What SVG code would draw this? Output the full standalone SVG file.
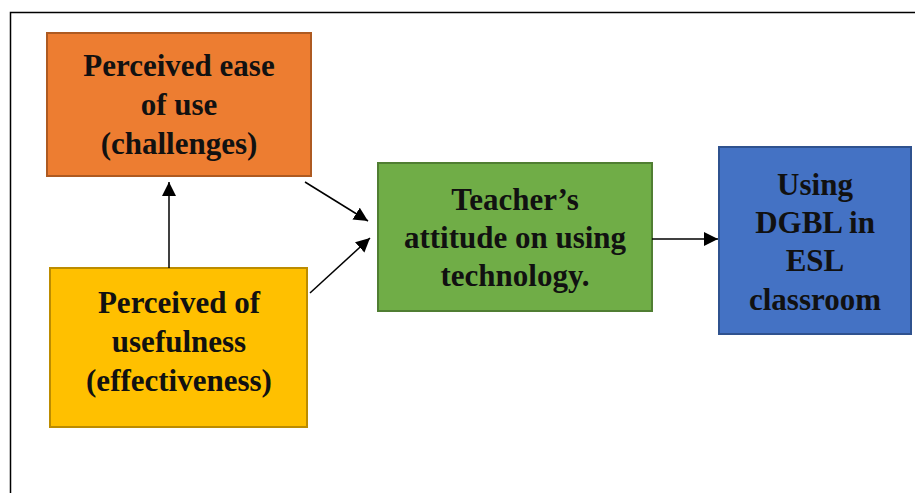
<svg xmlns="http://www.w3.org/2000/svg" width="915" height="493" viewBox="0 0 915 493">
  <defs>
    <marker id="arrow" viewBox="0 0 10 10" refX="10" refY="5" markerWidth="14" markerHeight="14" markerUnits="userSpaceOnUse" orient="auto">
      <path d="M0,0 L10,5 L0,10 z" fill="#000"/>
    </marker>
    <style>
      .box { stroke-width: 2; }
      .label { font-family: "Liberation Serif", "Times New Roman", serif; font-weight: bold; font-size: 31px; fill: #111; text-anchor: middle; }
      .conn { stroke: #000; stroke-width: 1.5; fill: none; marker-end: url(#arrow); }
    </style>
  </defs>

  <rect width="915" height="493" fill="#fff"/>
  <!-- outer frame -->
  <rect x="10.5" y="12.5" width="920" height="500" fill="none" stroke="#000" stroke-width="1.5"/>

  <g id="ease-of-use">
    <rect class="box" x="47" y="33" width="264" height="143" fill="#ED7D31" stroke="#AE5A21"/>
    <text class="label" x="179" y="76">Perceived ease</text>
    <text class="label" x="179" y="115">of use</text>
    <text class="label" x="179" y="154">(challenges)</text>
  </g>

  <g id="usefulness">
    <rect class="box" x="50" y="268" width="257" height="159" fill="#FFC000" stroke="#BC8C00"/>
    <text class="label" x="179" y="313">Perceived of</text>
    <text class="label" x="179" y="352">usefulness</text>
    <text class="label" x="179" y="391">(effectiveness)</text>
  </g>

  <g id="attitude">
    <rect class="box" x="378" y="163" width="274" height="148" fill="#70AD47" stroke="#507E32"/>
    <text class="label" x="515" y="210">Teacher’s</text>
    <text class="label" x="515" y="248">attitude on using</text>
    <text class="label" x="515" y="286">technology.</text>
  </g>

  <g id="dgbl">
    <rect class="box" x="719" y="147" width="192" height="187" fill="#4472C4" stroke="#2F528F"/>
    <text class="label" x="815" y="195">Using</text>
    <text class="label" x="815" y="233">DGBL in</text>
    <text class="label" x="815" y="271">ESL</text>
    <text class="label" x="815" y="310">classroom</text>
  </g>

  <g id="connectors">
    <line class="conn" x1="169" y1="268" x2="169" y2="182"/>
    <line class="conn" x1="305" y1="182" x2="368" y2="221"/>
    <line class="conn" x1="310" y1="293" x2="370" y2="238"/>
    <line class="conn" x1="652" y1="239" x2="718" y2="239"/>
  </g>
</svg>
